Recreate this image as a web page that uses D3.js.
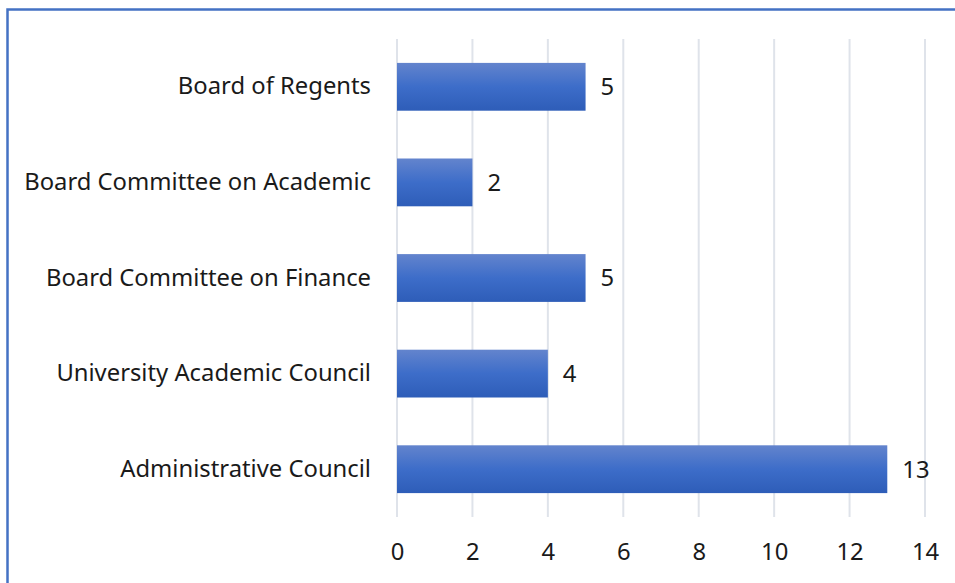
<!DOCTYPE html>
<html><head><meta charset="utf-8">
<script src="https://cdn.jsdelivr.net/npm/d3@7"></script>
<style>
html,body{margin:0;padding:0;background:#fff;}
svg{display:block;}
text{font-family:"Noto Sans",sans-serif;fill:#1a1a1a;}
</style></head><body>
<svg id="c" width="955" height="583"></svg>
<script>
const categories = ["Board of Regents","Board Committee on Academic","Board Committee on Finance","University Academic Council","Administrative Council"];
const values = [5,2,5,4,13];
const xTicks = [0,2,4,6,8,10,12,14];

const svg = d3.select("#c");
const W = 955, H = 583;
const m = {left:397, right:30, top:39, bottom:66};
const FONT = '"Noto Sans",sans-serif';
const FS = 23.8;

svg.append("rect").attr("x",7.5).attr("y",9.5).attr("width",W+20).attr("height",H+20)
  .attr("fill","none").attr("stroke","#4472c4").attr("stroke-width",2.5);

const defs = svg.append("defs");
const g = defs.append("linearGradient").attr("id","bg").attr("x1",0).attr("y1",0).attr("x2",0).attr("y2",1);
g.append("stop").attr("offset","0%").attr("stop-color","#6384cd");
g.append("stop").attr("offset","50%").attr("stop-color","#3d6dc9");
g.append("stop").attr("offset","100%").attr("stop-color","#2e5db8");

const x = d3.scaleLinear().domain([0,14]).range([m.left, 925]);
const y = d3.scaleBand().domain(categories).range([m.top, H-m.bottom]).paddingInner(0.5).paddingOuter(0.25);

svg.append("g").selectAll("line").data(xTicks).join("line")
  .attr("x1",d=>x(d)).attr("x2",d=>x(d)).attr("y1",m.top).attr("y2",H-m.bottom)
  .attr("stroke","#dfe3ea").attr("stroke-width",2);

svg.append("g").selectAll("rect").data(values).join("rect")
  .attr("x",x(0)).attr("y",(d,i)=>y(categories[i]))
  .attr("width",d=>x(d)-x(0)).attr("height",y.bandwidth())
  .attr("fill","url(#bg)");

svg.append("g").selectAll("text").data(values).join("text")
  .attr("x",d=>x(d)+15).attr("y",(d,i)=>y(categories[i])+y.bandwidth()/2)
  .attr("dy","0.35em").attr("font-size",FS).text(d=>d);

const ya = svg.append("g").attr("transform",`translate(${x(0)},0)`).call(d3.axisLeft(y).tickSize(0).tickPadding(26));
ya.select(".domain").remove();
ya.selectAll("text").attr("font-size",FS).style("font-family",FONT).attr("fill","#1a1a1a");

const xa = svg.append("g").attr("transform",`translate(0,${H-m.bottom})`)
  .call(d3.axisBottom(x).tickValues(xTicks).tickSize(0).tickPadding(26));
xa.select(".domain").remove();
xa.selectAll("text").attr("font-size",FS).style("font-family",FONT).attr("fill","#1a1a1a");
</script>
</body></html>
